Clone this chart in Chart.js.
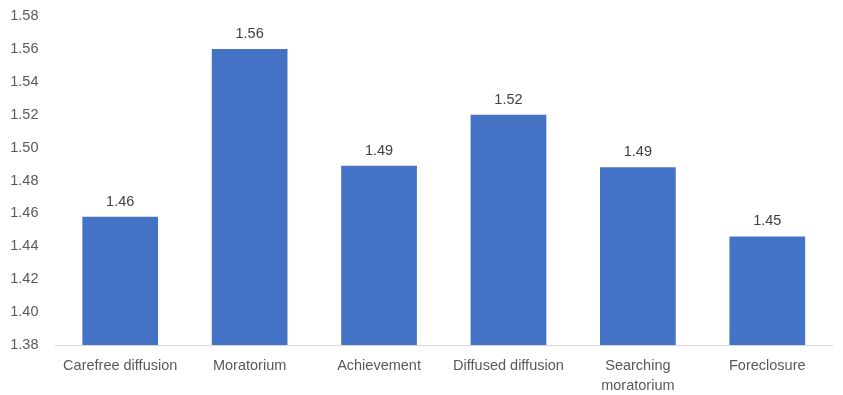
<!DOCTYPE html>
<html>
<head>
<meta charset="utf-8">
<script src="https://cdn.jsdelivr.net/npm/chart.js@4"></script>
<style>
  html, body { margin: 0; padding: 0; background: #fff; }
  #wrap { width: 843px; height: 395px; }
</style>
</head>
<body>
<div id="wrap"><canvas id="identityChart"></canvas></div>
<script>
// identity status means
const categories = [
  "Carefree diffusion",
  "Moratorium",
  "Achievement",
  "Diffused diffusion",
  ["Searching", "moratorium"],
  "Foreclosure"
];
const means = [1.458, 1.560, 1.489, 1.520, 1.488, 1.446];

const Y_MIN = 1.38;
const Y_MAX = 1.58;
const Y_STEP = 0.02;

const FONT = "'Liberation Sans', Arial, sans-serif";
const FONT_SIZE = 14.5;

// prints the value above each bar
const barValueLabels = {
  id: "barValueLabels",
  afterDatasetsDraw(chart) {
    const ctx = chart.ctx;
    const meta = chart.getDatasetMeta(0);
    ctx.save();
    ctx.font = FONT_SIZE + "px " + FONT;
    ctx.fillStyle = "#404040";
    ctx.textAlign = "center";
    ctx.textBaseline = "middle";
    meta.data.forEach((bar, i) => {
      ctx.fillText(means[i].toFixed(2), bar.x, bar.y - 15);
    });
    ctx.restore();
  }
};

new Chart(document.getElementById("identityChart"), {
  type: "bar",
  data: {
    labels: categories,
    datasets: [{
      data: means,
      backgroundColor: "#4472C4",
      borderWidth: 0,
      categoryPercentage: 1,
      barPercentage: 0.585
    }]
  },
  options: {
    responsive: true,
    maintainAspectRatio: false,
    animation: false,
    layout: { padding: { top: 16, right: 11, left: 0, bottom: 0 } },
    plugins: {
      legend: { display: false },
      tooltip: { enabled: false }
    },
    scales: {
      x: {
        grid: { display: false, drawTicks: false },
        border: { display: true, color: "#d9d9d9", width: 1 },
        ticks: {
          color: "#595959",
          font: { family: FONT, size: FONT_SIZE, lineHeight: 1.38 },
          padding: 11,
          maxRotation: 0,
          autoSkip: false
        },
        afterFit: scale => { scale.height = 50; }
      },
      y: {
        min: Y_MIN,
        max: Y_MAX,
        grid: { display: false, drawTicks: false },
        border: { display: false },
        ticks: {
          stepSize: Y_STEP,
          color: "#595959",
          font: { family: FONT, size: FONT_SIZE },
          padding: 17,
          callback: v => Number(v).toFixed(2)
        },
        afterFit: scale => {
          scale.width = 55.5;
          scale.paddingTop = 0;
          scale.paddingBottom = 0;
        }
      }
    }
  },
  plugins: [barValueLabels]
});
</script>
</body>
</html>
